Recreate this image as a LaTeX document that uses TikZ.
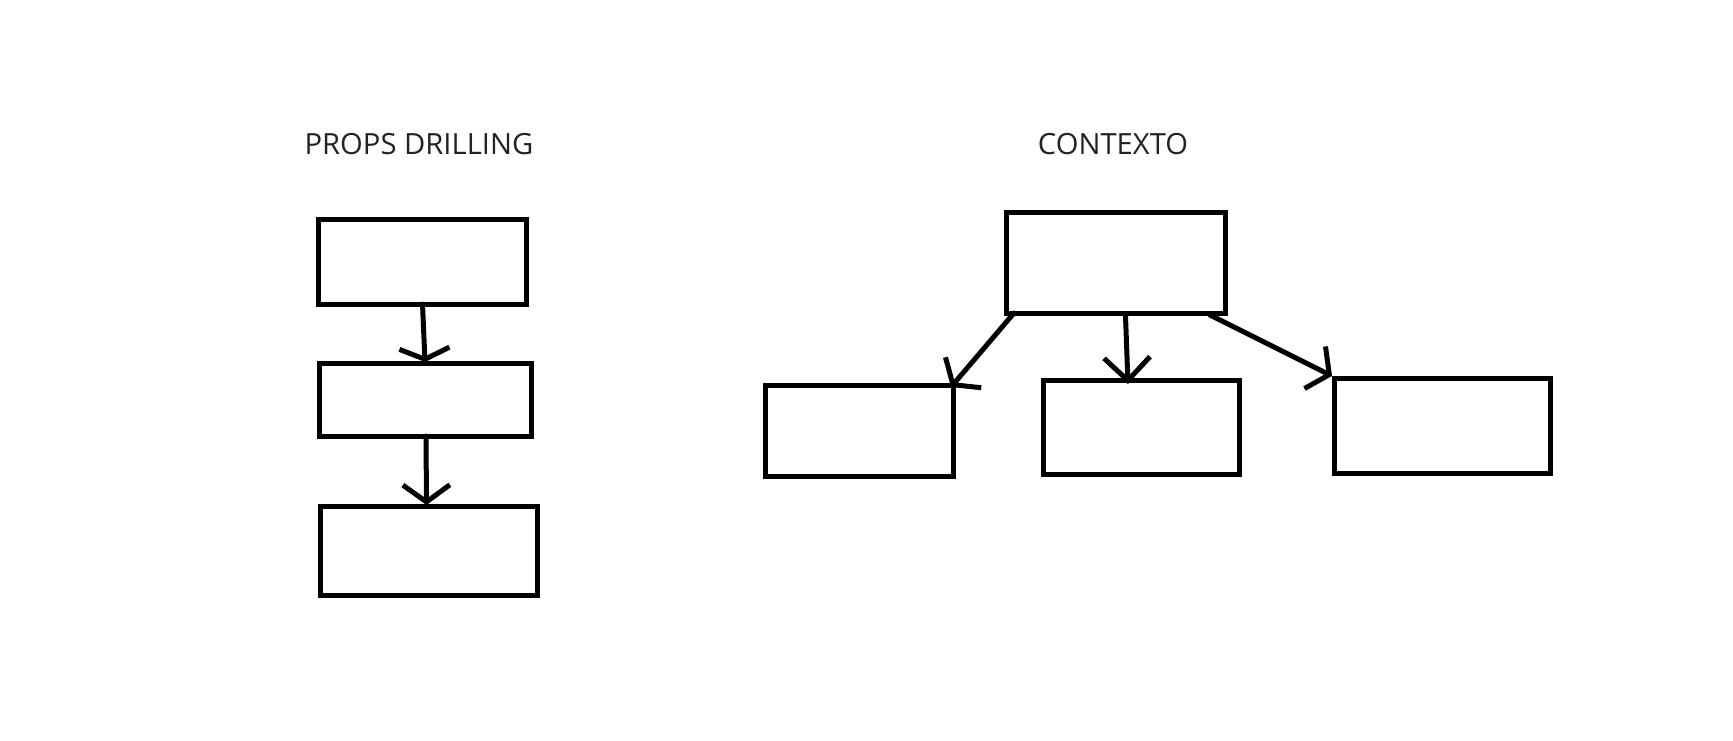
\documentclass[tikz,border=0pt]{standalone}
\usepackage{fontspec}
\setmainfont{Open Sans}
\usetikzlibrary{arrows.meta,calc}
\definecolor{ink}{HTML}{000000}
\definecolor{txt}{HTML}{222222}
\tikzset{
  box/.style={draw=ink, line width=2.5pt, inner sep=0pt, outer sep=0pt},
  conn/.style={draw=ink, line width=2.5pt, line cap=round, line join=round},
  title/.style={text=txt, font=\fontsize{14.6pt}{17pt}\selectfont, anchor=base, inner sep=0pt}
}
\begin{document}
\begin{tikzpicture}[x=0.5pt,y=-0.5pt]
\useasboundingbox (0,0) rectangle (1733,740);
% titles
\node[title] (t1) at (419,154) {PROPS DRILLING};
\node[title] (t2) at (1113,154) {CONTEXTO};
% props drilling boxes
\node[box, minimum width=104pt, minimum height=42.5pt] (b1) at (422.5,261.5) {};
\node[box, minimum width=106pt, minimum height=36.5pt] (b2) at (425,399.5) {};
\node[box, minimum width=108.5pt, minimum height=44.5pt] (b3) at (428.5,550.5) {};
% context boxes
\node[box, minimum width=109.5pt, minimum height=50.5pt] (T) at (1115.5,262.5) {};
\node[box, minimum width=94pt, minimum height=45.5pt] (L) at (859,430.5) {};
\node[box, minimum width=98pt, minimum height=47pt] (M) at (1141,427) {};
\node[box, minimum width=108pt, minimum height=47.5pt] (R) at (1442,425.5) {};
% connectors
\draw[conn, -{Straight Barb[length=5.5pt,width=25pt]}] (b1.south) -- ($(b2.north)+(0,-1)$);
\draw[conn, -{Straight Barb[length=8.5pt,width=23.5pt]}] ($(b2.south)+(1,0)$) -- ($(b3.north)+(-2,-1)$);
\draw[conn, -{Straight Barb[length=8pt,width=23.5pt]}] ($(T.south west)+(8,0)$) -- ($(L.north east)+(-2,2)$);
\draw[conn, -{Straight Barb[length=11.5pt,width=23pt]}] ($(T.south)+(10,3)$) -- ($(M.north)+(-13,4)$);
\draw[conn, -{Straight Barb[length=8pt,width=23.5pt]}] ($(T.south east)+(-15,2)$) -- ($(R.north west)+(-2,-2)$);
\end{tikzpicture}
\end{document}
